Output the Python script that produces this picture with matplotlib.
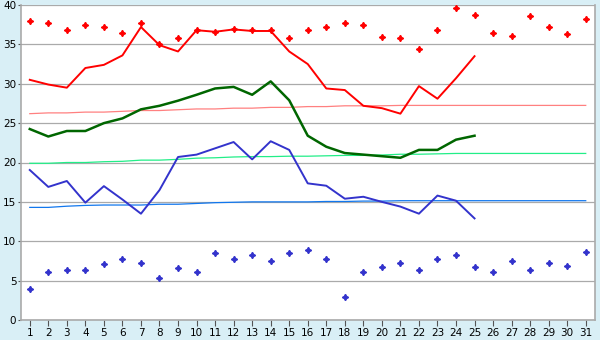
import numpy as np
import matplotlib
matplotlib.use("Agg")
import matplotlib.pyplot as plt

days = list(range(1, 32))

# daily maximum record (points)
max_rec = [38.0, 37.7, 36.8, 37.5, 37.2, 36.4, 37.7, 35.1, 35.8, 36.8,
           36.6, 36.9, 36.8, 36.8, 35.8, 36.8, 37.2, 37.7, 37.4, 35.9,
           35.8, 34.4, 36.8, 39.6, 38.7, 36.4, 36.1, 38.6, 37.2, 36.3, 38.2]
# daily minimum record (points)
min_rec = [4.0, 6.05, 6.4, 6.4, 7.1, 7.8, 7.2, 5.3, 6.55, 6.05,
           8.45, 7.8, 8.3, 7.55, 8.45, 8.95, 7.7, 2.9, 6.05, 6.7,
           7.2, 6.4, 7.7, 8.3, 6.7, 6.05, 7.55, 6.4, 7.2, 6.9, 8.6]

# this month, days 1-25
t_max = [30.5, 29.9, 29.5, 32.0, 32.4, 33.6, 37.2, 34.9, 34.1, 36.8,
         36.6, 36.9, 36.7, 36.7, 34.1, 32.5, 29.4, 29.2, 27.2, 26.9,
         26.2, 29.7, 28.1, 30.7, 33.5]
t_mean = [24.25, 23.3, 24.0, 24.0, 25.0, 25.6, 26.75, 27.2, 27.85, 28.6,
          29.4, 29.6, 28.6, 30.3, 27.9, 23.4, 22.0, 21.2, 21.0, 20.8,
          20.6, 21.6, 21.6, 22.9, 23.4]
t_min = [19.05, 16.9, 17.65, 14.9, 17.0, 15.3, 13.5, 16.5, 20.7, 21.0,
         21.8, 22.6, 20.4, 22.7, 21.6, 17.35, 17.05, 15.4, 15.65, 15.0,
         14.4, 13.5, 15.8, 15.15, 12.9]

# normals
n_max = [26.2, 26.3, 26.3, 26.4, 26.4, 26.5, 26.6, 26.6, 26.7, 26.8,
         26.8, 26.9, 26.9, 27.0, 27.0, 27.1, 27.1, 27.2, 27.2, 27.2,
         27.25, 27.25, 27.25, 27.25, 27.25, 27.25, 27.25, 27.25, 27.25, 27.25, 27.25]
n_mean = [19.9, 19.9, 20.0, 20.0, 20.1, 20.15, 20.3, 20.3, 20.4, 20.55,
          20.6, 20.7, 20.75, 20.75, 20.8, 20.8, 20.85, 20.9, 20.9, 20.95,
          21.05, 21.05, 21.1, 21.15, 21.15, 21.15, 21.15, 21.15, 21.15, 21.15, 21.15]
n_min = [14.3, 14.3, 14.45, 14.55, 14.6, 14.6, 14.6, 14.7, 14.7, 14.8,
         14.9, 14.95, 15.0, 15.0, 15.0, 15.0, 15.05, 15.05, 15.1, 15.1,
         15.15, 15.15, 15.15, 15.15, 15.15, 15.15, 15.15, 15.15, 15.15, 15.15, 15.15]

bg = "#D9EFF6"
fig = plt.figure(figsize=(6, 3.4), dpi=100, facecolor=bg)
ax = fig.add_axes([20.5/600, 1-320/340, 574.5/600, 315/340])
ax.set_facecolor("white")

d25 = days[:len(t_max)]
ax.plot(days, n_max, color="#FF8080", lw=0.9, zorder=2)
ax.plot(days, n_mean, color="#22EE88", lw=0.9, zorder=2)
ax.plot(days, n_min, color="#1177EE", lw=0.9, zorder=2)

ax.plot(d25, t_max, color="#FF0000", lw=1.4, zorder=3)
ax.plot(d25, t_mean, color="#006600", lw=1.8, zorder=3)
ax.plot(d25, t_min, color="#3333CC", lw=1.4, zorder=3)

ax.plot(days, max_rec, ls="none", marker=(4, 1, 0), ms=4.5, color="#FF0000", zorder=4)
ax.plot(days, min_rec, ls="none", marker=(4, 1, 0), ms=4.5, color="#3333CC", zorder=4)

ax.set_xlim(0.5, 31.5)
ax.set_ylim(0, 40)
ax.set_xticks(days)
ax.set_yticks(range(0, 41, 5))
ax.yaxis.grid(True, color="#AAAAAA", lw=0.9)
ax.set_axisbelow(True)
for s in ["left", "bottom", "right"]:
    ax.spines[s].set_color("#AAAAAA")
    ax.spines[s].set_linewidth(1.2)
ax.spines["top"].set_visible(False)
ax.tick_params(axis="x", length=4, color="#555555", labelsize=7.5, pad=2)
ax.tick_params(axis="y", length=2, color="#555555", labelsize=7.5, pad=1)

fig.savefig("out.png", dpi=100, facecolor=bg)
